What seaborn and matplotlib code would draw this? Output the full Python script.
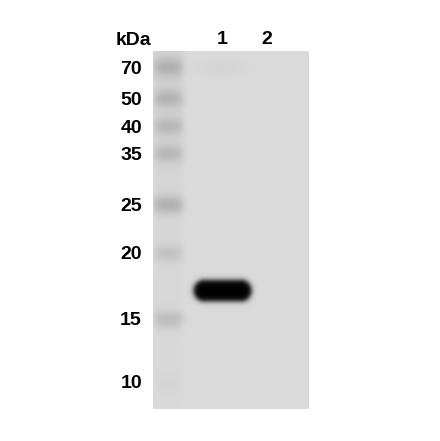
import numpy as np
import matplotlib
matplotlib.use("Agg")
import matplotlib.pyplot as plt
import seaborn as sns

# ---- data ----
marker_kda = [70, 50, 40, 35, 25, 20, 15, 10]
# relative migration (0 = top of membrane, 1 = bottom)
marker_migration = [0.045, 0.132, 0.210, 0.286, 0.429, 0.563, 0.748, 0.924]
marker_darkness = [0.15, 0.14, 0.13, 0.13, 0.17, 0.09, 0.12, 0.02]

lane_labels = ["1", "2"]
lane_centers = [0.443, 0.73]          # fraction of membrane width
marker_lane_center = 0.095

band_lane = ["1"]
band_migration = [0.667]
band_halfwidth = [0.185]              # fraction of membrane width
band_halfheight = [0.030]             # fraction of membrane height
band_darkness = [1.0]

background = 0.855

# ---- build membrane intensity grid ----
nrows, ncols = 357, 156
yy, xx = np.mgrid[0:nrows, 0:ncols].astype(float)
dark = np.zeros((nrows, ncols))

mcx = marker_lane_center * ncols
lane_profile = np.exp(-((xx - mcx) / 15.0) ** 4)
# faint continuous tint in the ladder lane, stronger towards the top
dark += 0.05 * lane_profile * np.exp(-yy / (0.5 * nrows))

for mig, dk in zip(marker_migration, marker_darkness):
    cy = mig * nrows
    dark += dk * lane_profile * np.exp(-((yy - cy) / 9.0) ** 2)

for lane, mig, hw, hh, dk in zip(band_lane, band_migration, band_halfwidth,
                                 band_halfheight, band_darkness):
    cx = lane_centers[lane_labels.index(lane)] * ncols
    cy = mig * nrows
    r = hh * nrows
    a = hw * ncols - r
    dx = np.clip(np.abs(xx - cx) - a, 0, None)
    d = np.sqrt(dx ** 2 + (yy - cy) ** 2) - r
    dark += dk / (1 + np.exp(d / 1.5))

# faint smear at top of lane 1
cx1 = lane_centers[0] * ncols
dark += 0.03 * np.exp(-((xx - cx1) / 25.0) ** 2 - ((yy - 0.045 * nrows) / 8.0) ** 2)

img = np.clip(background * (1 - dark), 0, 1)

# ---- draw ----
fig = plt.figure(figsize=(4.4, 4.41), dpi=100)
fig.patch.set_facecolor("white")
ax = fig.add_axes([153 / 440, 1 - 409 / 441, 156 / 440, 358 / 441])
sns.heatmap(img, cmap="gray", vmin=0, vmax=1, cbar=False, ax=ax,
            xticklabels=False, yticklabels=False, rasterized=True)

font = dict(family=["Liberation Sans", "DejaVu Sans"], fontsize=14, fontweight="bold")

ax.set_yticks([m * nrows for m in marker_migration])
ax.set_yticklabels([str(k) for k in marker_kda], **font)
ax.tick_params(axis="y", length=0, pad=8)

ax.xaxis.tick_top()
ax.set_xticks([c * ncols for c in lane_centers])
ax.set_xticklabels(lane_labels, **font)
ax.tick_params(axis="x", length=0, pad=2)

ax.text(-0.01, 1.005, "kDa", transform=ax.transAxes, ha="right", va="bottom", **font)

for s in ax.spines.values():
    s.set_visible(False)

fig.savefig("out.png", dpi=100, facecolor="white")
